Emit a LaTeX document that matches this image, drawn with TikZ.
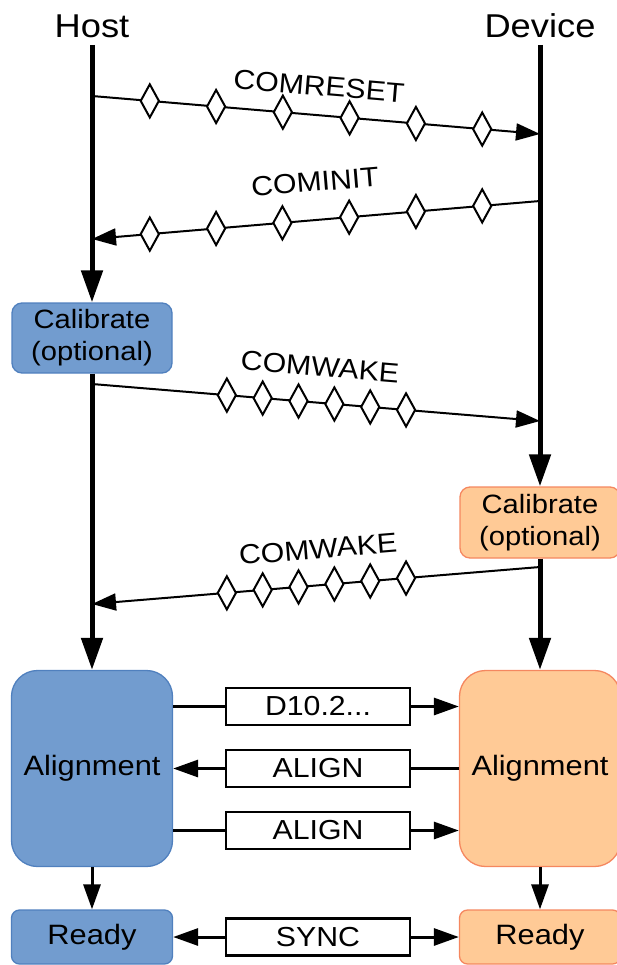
\documentclass[tikz,border=0pt]{standalone}
\usepackage{fontspec}
\setmainfont{Liberation Sans}[FakeStretch=1.1]
\usetikzlibrary{arrows.meta,shapes.geometric}
\definecolor{hostfill}{HTML}{729CCF}
\definecolor{hostdraw}{HTML}{5080BE}
\definecolor{devfill}{HTML}{FFCA96}
\definecolor{devdraw}{HTML}{F5875F}
\begin{document}
\begin{tikzpicture}[x=1pt,y=-1pt,
  lbl/.style={font=\fontsize{27.5}{30}\selectfont, inner sep=0pt},
  ttl/.style={font=\fontsize{33}{36}\selectfont, inner sep=0pt},
  lifeline/.style={line width=5pt, -{Triangle[length=32pt,width=21pt]}},
  msg/.style={line width=2pt, -{Triangle[length=24pt,width=17pt]}},
  dia/.style={diamond, draw, fill=white, line width=2pt, minimum width=19pt, minimum height=34pt, inner sep=0pt},
  hbox/.style={draw=hostdraw, fill=hostfill, line width=1.3pt, align=center, text=black},
  dbox/.style={draw=devdraw, fill=devfill, line width=1.3pt, align=center, text=black},
  calfont/.style={font=\fontsize{26.5}{32}\selectfont},
  bigfont/.style={font=\fontsize{28}{30}\selectfont},
  mbox/.style={draw, fill=white, line width=2.5pt, minimum width=184pt, minimum height=37pt, inner sep=0pt, font=\fontsize{27.5}{30}\selectfont},
  link/.style={line width=3pt},
  arr/.style={line width=3pt, -{Triangle[length=25pt,width=17pt]}},
]
\useasboundingbox (0,0) rectangle (617,965);
\clip (0,0) rectangle (617,965);

% titles
\node[ttl] (host) at (92,26) {Host};
\node[ttl] (dev) at (540,26) {Device};
\coordinate (hTop) at (92,45);
\coordinate (dTop) at (540,45);

% boxes
\node[hbox, calfont, rounded corners=10pt, minimum width=160pt, minimum height=70pt, inner sep=0pt] (cal1) at (92,338) {Calibrate\\(optional)};
\node[dbox, calfont, rounded corners=10pt, minimum width=160pt, minimum height=71pt, inner sep=0pt] (cal2) at (540,522.5) {Calibrate\\(optional)};
\node[hbox, bigfont, rounded corners=26pt, minimum width=161pt, minimum height=196pt] (al1) at (92,768.5) {Alignment};
\node[dbox, bigfont, rounded corners=26pt, minimum width=161pt, minimum height=196pt] (al2) at (540,768.5) {Alignment};
\node[hbox, bigfont, rounded corners=8pt, minimum width=161pt, minimum height=54pt] (rd1) at (92,937) {Ready};
\node[dbox, bigfont, rounded corners=8pt, minimum width=161pt, minimum height=54pt] (rd2) at (540,937) {Ready};

% lifelines
\draw[lifeline] (hTop) -- (cal1.north);
\draw[lifeline] (cal1.south) -- (al1.north);
\draw[lifeline] (dTop) -- (cal2.north);
\draw[lifeline] (cal2.south) -- (al2.north);
\draw[arr] (al1.south) -- (rd1.north);
\draw[arr] (al2.south) -- (rd2.north);

% OOB messages
\coordinate (r1) at (92,96);  \coordinate (r2) at (540,134);
\coordinate (i1) at (540,201); \coordinate (i2) at (92,239);
\coordinate (w1) at (92,384); \coordinate (w2) at (540,421);
\coordinate (v1) at (540,567); \coordinate (v2) at (92,604);

\draw[msg] (r1) -- (r2)
  node[dia,pos=0.129]{} node[dia,pos=0.277]{} node[dia,pos=0.426]{}
  node[dia,pos=0.575]{} node[dia,pos=0.723]{} node[dia,pos=0.871]{};
\draw[msg] (i1) -- (i2)
  node[dia,pos=0.129]{} node[dia,pos=0.277]{} node[dia,pos=0.426]{}
  node[dia,pos=0.575]{} node[dia,pos=0.723]{} node[dia,pos=0.871]{};
\draw[msg] (w1) -- (w2)
  node[dia,pos=0.301]{} node[dia,pos=0.381]{} node[dia,pos=0.461]{}
  node[dia,pos=0.541]{} node[dia,pos=0.621]{} node[dia,pos=0.701]{};
\draw[msg] (v1) -- (v2)
  node[dia,pos=0.299]{} node[dia,pos=0.379]{} node[dia,pos=0.459]{}
  node[dia,pos=0.539]{} node[dia,pos=0.619]{} node[dia,pos=0.699]{};

\node[lbl, rotate=-4.8] (lr) at (319,86) {COMRESET};
\node[lbl, rotate=4.8] (li) at (315,182) {COMINIT};
\node[lbl, rotate=-4.7] (lw1) at (320,367) {COMWAKE};
\node[lbl, rotate=4.7] (lw2) at (318,549) {COMWAKE};

% in-band
\node[mbox] (m1) at (318,706.5) {D10.2...};
\node[mbox] (m2) at (318,768.5) {ALIGN};
\node[mbox] (m3) at (318,830.5) {ALIGN};
\node[mbox] (m4) at (318,937) {SYNC};

\draw[link] (al1.east |- m1) -- (m1.west);
\draw[arr] (m1.east) -- (al2.west |- m1);
\draw[link] (al2.west |- m2) -- (m2.east);
\draw[arr] (m2.west) -- (al1.east |- m2);
\draw[link] (al1.east |- m3) -- (m3.west);
\draw[arr] (m3.east) -- (al2.west |- m3);
\draw[arr] (m4.west) -- (rd1.east |- m4);
\draw[arr] (m4.east) -- (rd2.west |- m4);
\end{tikzpicture}
\end{document}
